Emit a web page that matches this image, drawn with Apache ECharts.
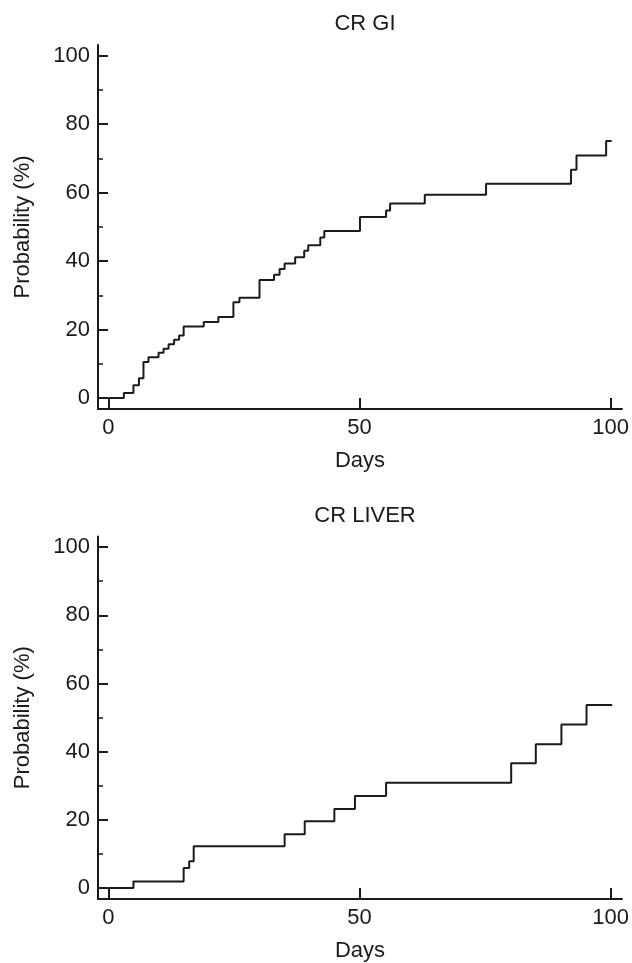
<!DOCTYPE html>
<html>
<head>
<meta charset="utf-8">
<title>CR GI / CR LIVER</title>
<script src="https://cdn.jsdelivr.net/npm/echarts@6/dist/echarts.min.js"></script>
<style>
  html, body { margin: 0; padding: 0; background: #ffffff; }
  #chart { width: 632px; height: 963px; }
</style>
</head>
<body>
<div id="chart"></div>
<script>
// CR GI 累积曲线 (天, %)
var giDays = [0, 3.1, 5, 6.1, 7, 8, 10, 11, 12, 13.1, 14.1, 15, 19, 21.9, 24.9, 26.1, 30.1, 33, 34.1, 35.1,
  37.2, 39, 39.8, 42.2, 43, 50.1, 55.3, 56.1, 63, 75.2, 92.1, 93.2, 99.1, 100.2];
var giProb = [0, 1.5, 3.7, 5.8, 10.5, 11.9, 13.2, 14.4, 15.7, 17, 18.3, 20.9, 22.2, 23.7, 28, 29.3, 34.5, 36, 37.7, 39.3,
  41.1, 43, 44.6, 46.9, 48.8, 52.9, 54.8, 56.8, 59.4, 62.6, 66.7, 70.8, 75.1, 75.1];
// CR LIVER 累积曲线
var liverDays = [0, 5, 15, 16.1, 17, 35.1, 39.1, 45, 49.1, 55.3, 80.2, 85.1, 90.2, 95.2, 100.3];
var liverProb = [0, 1.9, 5.9, 7.9, 12.3, 15.8, 19.6, 23.2, 27, 30.9, 36.6, 42.2, 48, 53.7, 53.7];

var panelTitles = ['CR GI', 'CR LIVER'];
var dayTicks = [0, 50, 100];
var probTicks = [0, 20, 40, 60, 80, 100];
var probMinorTicks = [10, 30, 50, 70, 90];

var ink = '#1a1a1a';
var font = 'Liberation Sans, Arial, Helvetica, sans-serif';

function zip(xs, ys) {
  return xs.map(function (x, i) { return [x, ys[i]]; });
}

var panels = [
  { top: 45, data: zip(giDays, giProb) },
  { top: 536.5, data: zip(liverDays, liverProb) }
];

var option = {
  animation: false,
  backgroundColor: '#ffffff',
  textStyle: { fontFamily: font, color: ink },
  title: [],
  grid: [],
  xAxis: [],
  yAxis: [],
  series: []
};

panels.forEach(function (p, i) {
  option.title.push({
    text: panelTitles[i],
    left: 360,
    top: p.top - 37,
    textAlign: 'center',
    textStyle: { fontFamily: font, fontSize: 22, fontWeight: 'normal', color: ink }
  });
  option.grid.push({ left: 98, right: 10, top: p.top, height: 364 });
  // 横轴 Days
  option.xAxis.push({
    type: 'value',
    gridIndex: i,
    min: -2.05,
    max: 102.25,
    name: 'Days',
    nameLocation: 'middle',
    nameGap: 41,
    nameTextStyle: { fontFamily: font, fontSize: 22, color: ink },
    axisLine: { onZero: false, lineStyle: { color: ink, width: 2 } },
    axisTick: { inside: true, length: 11, customValues: dayTicks, lineStyle: { color: ink, width: 2 } },
    axisLabel: { customValues: dayTicks, margin: 8, fontFamily: font, fontSize: 22, color: ink },
    splitLine: { show: false }
  });
  // 纵轴 主刻度
  option.yAxis.push({
    type: 'value',
    gridIndex: i,
    position: 'left',
    min: -3.2,
    max: 103.1,
    name: 'Probability (%)',
    nameLocation: 'middle',
    nameGap: 64,
    nameTextStyle: { fontFamily: font, fontSize: 22, color: ink },
    axisLine: { show: true, onZero: false, lineStyle: { color: ink, width: 2 } },
    axisTick: { inside: true, length: 10, customValues: probTicks, lineStyle: { color: ink, width: 2 } },
    axisLabel: { customValues: probTicks, margin: 8, fontFamily: font, fontSize: 22, color: ink },
    splitLine: { show: false }
  });
  // 纵轴 次刻度
  option.yAxis.push({
    type: 'value',
    gridIndex: i,
    position: 'left',
    min: -3.2,
    max: 103.1,
    axisLine: { show: false, onZero: false },
    axisTick: { inside: true, length: 5, customValues: probMinorTicks, lineStyle: { color: ink, width: 1.5 } },
    axisLabel: { show: false },
    splitLine: { show: false }
  });
  option.series.push({
    type: 'line',
    step: 'end',
    xAxisIndex: i,
    yAxisIndex: i * 2,
    showSymbol: false,
    lineStyle: { color: ink, width: 2 },
    data: p.data
  });
});

var myChart = echarts.init(document.getElementById('chart'));
myChart.setOption(option);
</script>
</body>
</html>
